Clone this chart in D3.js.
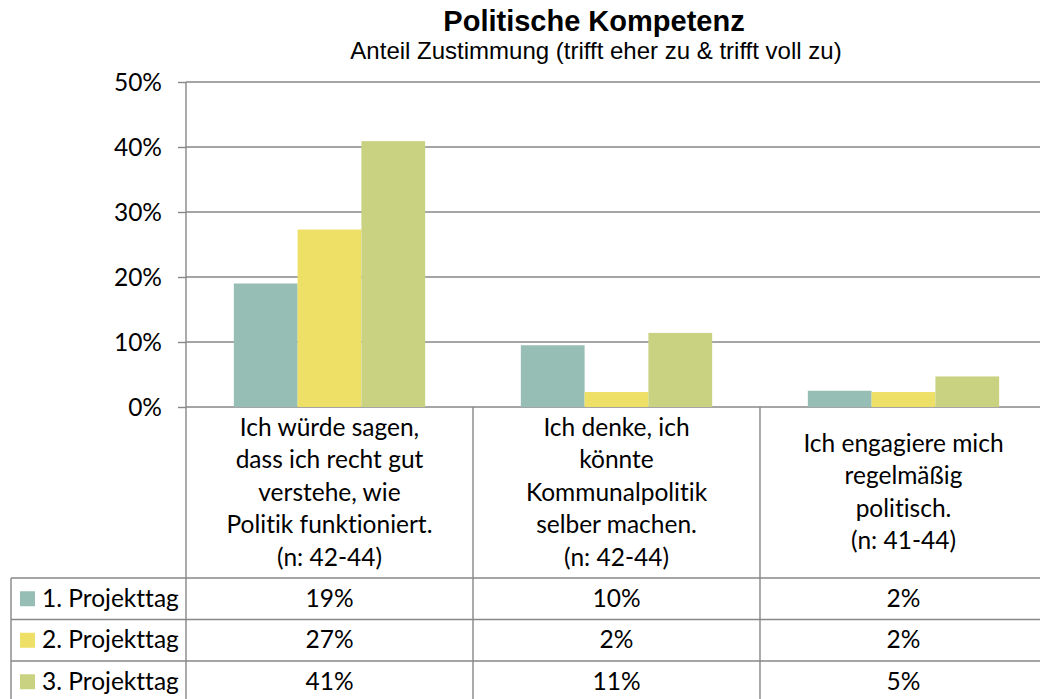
<!DOCTYPE html>
<html>
<head>
<meta charset="utf-8">
<script src="https://cdn.jsdelivr.net/npm/d3@7"></script>
<style>
  body { margin: 0; background: #fff; }
  svg { display: block; }
  text { font-variant-ligatures: none; }
</style>
</head>
<body>
<div id="chart"></div>
<script>
// data
const categoryKeys = ["c1", "c2", "c3"];
const categoryLabels = [
    ["Ich würde sagen,", "dass ich recht gut", "verstehe, wie", "Politik funktioniert.", "(n: 42-44)"],
    ["Ich denke, ich", "könnte", "Kommunalpolitik", "selber machen.", "(n: 42-44)"],
    ["Ich engagiere mich", "regelmäßig", "politisch.", "(n: 41-44)"]
];
const seriesNames = ["1. Projekttag", "2. Projekttag", "3. Projekttag"];
const seriesColors = ["#96beb4", "#eee066", "#c8d281"];
const day1 = [19.0, 9.5, 2.5];
const day2 = [27.3, 2.3, 2.3];
const day3 = [40.9, 11.4, 4.7];
const day1Labels = ["19%", "10%", "2%"];
const day2Labels = ["27%", "2%", "2%"];
const day3Labels = ["41%", "11%", "5%"];
const yTicks = [0, 10, 20, 30, 40, 50];

const seriesValues = [day1, day2, day3];
const seriesLabels = [day1Labels, day2Labels, day3Labels];

const W = 1040, H = 699;
const plotLeft = 186, plotRight = 1047, plotTop = 82, plotBottom = 407;
const headerBottom = 578, rowH = 41.5;
const gridColor = "#878787";
const bodyFont = "Lato, 'Open Sans', sans-serif";
const bodySize = 24.5;

const svg = d3.select("#chart")
    .append("svg")
    .attr("width", W)
    .attr("height", H);

const x0 = d3.scaleBand()
    .domain(categoryKeys)
    .range([plotLeft, plotRight])
    .padding(0);

const x1 = d3.scaleBand()
    .domain(seriesNames)
    .range([0, x0.bandwidth()])
    .paddingInner(0)
    .paddingOuter(0.75);

const y = d3.scaleLinear()
    .domain([0, 50])
    .range([plotBottom, plotTop]);

const rowY = d3.scaleBand()
    .domain(seriesNames)
    .range([headerBottom, headerBottom + rowH * seriesNames.length]);

// title
svg.append("text")
    .attr("x", 594)
    .attr("y", 31)
    .attr("text-anchor", "middle")
    .attr("font-family", "'Liberation Sans', Arial, sans-serif")
    .attr("font-weight", "bold")
    .attr("font-size", 29)
    .text("Politische Kompetenz");

svg.append("text")
    .attr("x", 596)
    .attr("y", 59)
    .attr("text-anchor", "middle")
    .attr("font-family", "'Liberation Sans', Arial, sans-serif")
    .attr("font-size", 24)
    .text("Anteil Zustimmung (trifft eher zu & trifft voll zu)");

// gridlines
svg.append("g")
    .selectAll("line")
    .data(yTicks)
    .enter()
    .append("line")
    .attr("x1", plotLeft)
    .attr("x2", plotRight)
    .attr("y1", d => y(d))
    .attr("y2", d => y(d))
    .attr("stroke", gridColor)
    .attr("stroke-width", 1.4);

// bars
const groups = svg.append("g")
    .selectAll("g")
    .data(seriesNames)
    .enter()
    .append("g")
    .attr("fill", (d, i) => seriesColors[i]);

groups.selectAll("rect")
    .data((s, i) => seriesValues[i].map((v, j) => ({ series: s, key: categoryKeys[j], value: v })))
    .enter()
    .append("rect")
    .attr("x", d => x0(d.key) + x1(d.series))
    .attr("y", d => y(d.value))
    .attr("width", x1.bandwidth())
    .attr("height", d => y(0) - y(d.value));

// y axis
const yAxis = d3.axisLeft(y)
    .tickValues(yTicks)
    .tickFormat(d => d + "%")
    .tickSize(8)
    .tickSizeOuter(0)
    .tickPadding(16);

const ax = svg.append("g")
    .attr("transform", `translate(${plotLeft},0)`)
    .call(yAxis);

ax.select(".domain").remove();
ax.selectAll(".tick line").attr("stroke", gridColor).attr("stroke-width", 1.4);
ax.selectAll(".tick text")
    .attr("font-family", bodyFont)
    .attr("font-size", bodySize)
    .attr("fill", "#000")
    .attr("dy", "0.35em");

// axis line running down through the table
svg.append("line")
    .attr("x1", plotLeft).attr("x2", plotLeft)
    .attr("y1", plotTop).attr("y2", H)
    .attr("stroke", gridColor).attr("stroke-width", 1.4);

// table: column borders
const table = svg.append("g");
table.selectAll(".col")
    .data(categoryKeys.slice(1))
    .enter()
    .append("line")
    .attr("x1", d => x0(d)).attr("x2", d => x0(d))
    .attr("y1", plotBottom).attr("y2", H)
    .attr("stroke", gridColor).attr("stroke-width", 1.4);

// row borders
table.selectAll(".row")
    .data(seriesNames)
    .enter()
    .append("line")
    .attr("x1", 11).attr("x2", plotRight)
    .attr("y1", d => rowY(d)).attr("y2", d => rowY(d))
    .attr("stroke", gridColor).attr("stroke-width", 1.4);

table.append("line")
    .attr("x1", 11).attr("x2", 11)
    .attr("y1", headerBottom).attr("y2", H)
    .attr("stroke", gridColor).attr("stroke-width", 1.4);

// category labels
const lineH = 32.5;
const headerMid = (plotBottom + headerBottom) / 2;
categoryKeys.forEach((k, i) => {
    const lines = categoryLabels[i];
    svg.append("g")
        .selectAll("text")
        .data(lines)
        .enter()
        .append("text")
        .attr("x", x0(k) + x0.bandwidth() / 2)
        .attr("y", (d, j) => headerMid + 8 + (j - (lines.length - 1) / 2) * lineH)
        .attr("text-anchor", "middle")
        .attr("font-family", bodyFont)
        .attr("font-size", bodySize)
        .text(d => d);
});

// legend keys + row names
const rows = svg.append("g")
    .selectAll("g")
    .data(seriesNames)
    .enter()
    .append("g")
    .attr("transform", d => `translate(0,${rowY(d) + rowY.bandwidth() / 2})`);

rows.append("rect")
    .attr("x", 20)
    .attr("y", -7.5)
    .attr("width", 15)
    .attr("height", 15)
    .attr("fill", (d, i) => seriesColors[i]);

rows.append("text")
    .attr("x", 42)
    .attr("y", 8)
    .attr("font-family", bodyFont)
    .attr("font-size", bodySize)
    .text(d => d);

// cell values
rows.selectAll(".val")
    .data((s, i) => seriesLabels[i].map((t, j) => ({ key: categoryKeys[j], text: t })))
    .enter()
    .append("text")
    .attr("x", d => x0(d.key) + x0.bandwidth() / 2)
    .attr("y", 8)
    .attr("text-anchor", "middle")
    .attr("font-family", bodyFont)
    .attr("font-size", bodySize)
    .text(d => d.text);
</script>
</body>
</html>
